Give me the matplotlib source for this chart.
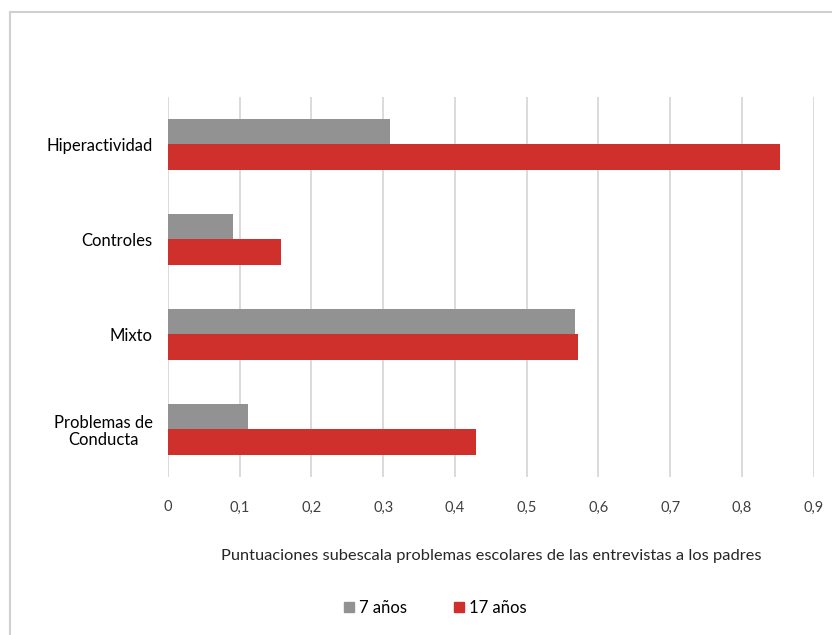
import numpy as np
import matplotlib.pyplot as plt
from matplotlib.lines import Line2D
from matplotlib.patches import Patch

categorias = ['Hiperactividad', 'Controles', 'Mixto', 'Problemas de\nConducta']
vals_7 = [0.31, 0.09, 0.568, 0.111]
vals_17 = [0.853, 0.157, 0.571, 0.430]
ticks = [0, 0.1, 0.2, 0.3, 0.4, 0.5, 0.6, 0.7, 0.8, 0.9]

plt.rcParams['font.family'] = ['Lato', 'DejaVu Sans']

gris = '#929292'
rojo = '#cf302c'

fig = plt.figure(figsize=(8.32, 6.35), dpi=100)
ax = fig.add_axes([0.2019, 0.249, 0.7761, 0.5984])

y = np.arange(len(categorias))
h = 0.27
ax.barh(y - h/2, vals_7, height=h, color=gris, zorder=3, label='7 años')
ax.barh(y + h/2, vals_17, height=h, color=rojo, zorder=3, label='17 años')

ax.set_ylim(len(categorias) - 0.5, -0.5)
ax.set_xlim(0, 0.9)
ax.set_xticks(ticks)
ax.set_xticklabels([('%g' % t).replace('.', ',') for t in ticks], fontsize=10.5, color='#404040')
ax.set_yticks(y)
ax.set_yticklabels(categorias, fontsize=12, color='black', linespacing=1.05)
for lbl in ax.get_yticklabels():
    lbl.set_multialignment('center')
ax.tick_params(axis='both', length=0)
ax.tick_params(axis='x', pad=17)
ax.tick_params(axis='y', pad=11)
for s in ax.spines.values():
    s.set_visible(False)
ax.grid(axis='x', color='#d4d4d4', linewidth=1.2, zorder=0)

ax.set_xlabel('Puntuaciones subescala problemas escolares de las entrevistas a los padres',
              fontsize=11.8, color='#262626', labelpad=25)

handles = [Patch(color=gris, label='7 años'), Patch(color=rojo, label='17 años')]
fig.legend(handles=handles, loc='center', bbox_to_anchor=(0.523, 0.043), ncol=2,
           frameon=False, fontsize=12, handlelength=0.6, handleheight=0.6,
           handletextpad=0.3, columnspacing=2.8)

# borde del grafico (solo izquierda y arriba visibles)
fig.add_artist(Line2D([10/832, 10/832], [0, 1 - 12/635], color='#d0d0d0', lw=1.5))
fig.add_artist(Line2D([10/832, 1], [1 - 12/635, 1 - 12/635], color='#d0d0d0', lw=1.5))

fig.savefig('out.png', dpi=100)
